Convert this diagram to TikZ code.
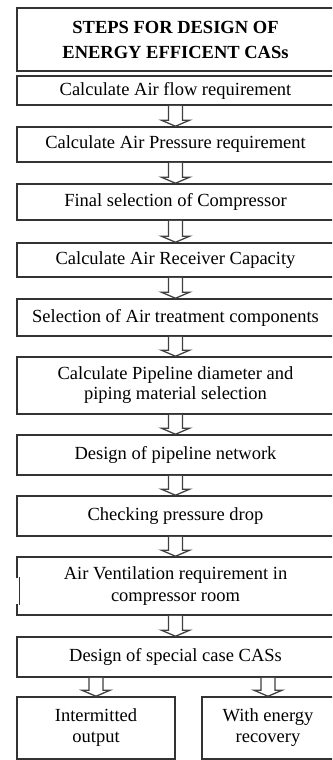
\documentclass[tikz,border=0pt]{standalone}
\usepackage{fontspec}
\setmainfont{Liberation Serif}
\usetikzlibrary{calc}

\tikzset{
    stepbox/.style={draw=black!80, line width=1.5pt, fill=white, inner sep=0pt,
        minimum width=317pt, align=center,
        font=\fontsize{18.5}{20}\selectfont},
    hollow/.style={draw=black!75, line width=1.3pt, fill=white, line join=miter,
        to path={($(\tikztostart)+(-7,0)$) -- ($(\tikztotarget)+(-7,-6)$)
            -- ($(\tikztotarget)+(-14,-6)$) -- (\tikztotarget)
            -- ($(\tikztotarget)+(14,-6)$) -- ($(\tikztotarget)+(7,-6)$)
            -- ($(\tikztostart)+(7,0)$)}}
}

\begin{document}
\begin{tikzpicture}[x=1pt, y=-1pt]
        \clip (0,0) rectangle (332,760);
        \fill[white] (0,0) rectangle (332,760);

        % The steps, top to bottom
        \node[stepbox, minimum height=63pt, font=\fontsize{18.5}{25}\selectfont\bfseries] (title) at (175.5,39.5) {STEPS FOR DESIGN OF\\ENERGY EFFICENT CASs};
        \node[stepbox, minimum height=29pt] (s1) at (175.5,90.5) {Calculate Air flow requirement};
        \node[stepbox, minimum height=35pt] (s2) at (175.5,144.5) {Calculate Air Pressure requirement};
        \node[stepbox, minimum height=36pt] (s3) at (175.5,202) {Final selection of Compressor};
        \node[stepbox, minimum height=34pt] (s4) at (175.5,260) {Calculate Air Receiver Capacity};
        \node[stepbox, minimum height=37pt] (s5) at (175.5,317.5) {Selection of Air treatment components};
        \node[stepbox, minimum height=57pt] (s6) at (175.5,385.5) {Calculate Pipeline diameter and\\piping material selection};
        \node[stepbox, minimum height=40pt] (s7) at (175.5,455) {Design of pipeline network};
        \node[stepbox, minimum height=40pt] (s8) at (175.5,516) {Checking pressure drop};
        \node[stepbox, minimum height=58pt, font=\fontsize{18.5}{22}\selectfont] (s9) at (175.5,586) {Air Ventilation requirement in\\compressor room};
        \node[stepbox, minimum height=40pt] (s10) at (175.5,657) {Design of special case CASs};

        % The two special cases
        \node[stepbox, minimum width=158pt, minimum height=62pt, font=\fontsize{18.5}{21}\selectfont] (left) at (96,728) {Intermitted\\output};
        \node[stepbox, minimum width=132pt, minimum height=62pt, font=\fontsize{18.5}{21}\selectfont] (right) at (268,728) {With energy\\recovery};

        % Kink in the left edge of the ventilation box
        \draw[white, line width=2.5pt] (s9.west |- 0,578) -- (s9.west |- 0,604);
        \draw[black!80, line width=1.5pt] (19.5,577) -- (19.5,605);

        % Block arrows between the steps
        \foreach \a/\b in {s1/s2, s2/s3, s3/s4, s4/s5, s5/s6, s6/s7, s7/s8, s8/s9, s9/s10}
            \draw[hollow] (\a.south) to (\b.north);
        \draw[hollow] (left.north |- s10.south) to (left.north);
        \draw[hollow] (right.north |- s10.south) to (right.north);
\end{tikzpicture}
\end{document}
